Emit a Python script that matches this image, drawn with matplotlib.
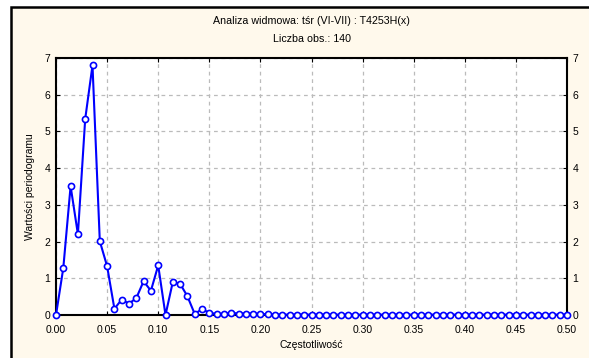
import numpy as np
import matplotlib
matplotlib.use("Agg")
import matplotlib.pyplot as plt
from matplotlib.patches import Rectangle

plt.rcParams['font.family'] = ['Liberation Sans', 'DejaVu Sans']

n_obs = 140
periodogram = [
    0.00, 1.28, 3.51, 2.20, 5.34, 6.80, 2.01, 1.33, 0.17, 0.42,
    0.31, 0.46, 0.92, 0.66, 1.35, 0.00, 0.90, 0.85, 0.51, 0.03,
    0.16, 0.06, 0.03, 0.03, 0.06, 0.04, 0.04, 0.04, 0.03, 0.02,
    0.01, 0.01, 0.01, 0.01, 0.01, 0.01, 0.01, 0.01, 0.01, 0.01,
    0.01, 0.01, 0.01, 0.01, 0.01, 0.01, 0.01, 0.01, 0.01, 0.01,
    0.01, 0.01, 0.01, 0.01, 0.01, 0.01, 0.01, 0.01, 0.01, 0.01,
    0.01, 0.01, 0.01, 0.01, 0.01, 0.01, 0.01, 0.01, 0.01, 0.01,
    0.01,
]
frequency = np.arange(len(periodogram)) / n_obs

x_ticks = [0.00, 0.05, 0.10, 0.15, 0.20, 0.25, 0.30, 0.35, 0.40, 0.45, 0.50]
y_ticks = [0, 1, 2, 3, 4, 5, 6, 7]

title_line1 = "Analiza widmowa: tśr (VI-VII) : T4253H(x)"
title_line2 = "Liczba obs.: 140"
x_label = "Częstotliwość"
y_label = "Wartości periodogramu"

W, H = 589, 358
fig = plt.figure(figsize=(W / 100, H / 100), dpi=100)
fig.patch.set_facecolor("white")

# cream panel with a black frame on the left and top
panel = Rectangle((11 / W, -0.05), 1.2, (H - 7) / H + 0.05,
                  transform=fig.transFigure, facecolor="#FFF9EC",
                  edgecolor="black", linewidth=1.8, zorder=0)
fig.add_artist(panel)

ax = fig.add_axes([56 / W, (H - 315) / H, (567 - 56) / W, (315 - 58) / H])
ax.set_facecolor("white")
ax.plot(frequency, periodogram, color="#0000FF", linewidth=1.5,
        marker="o", markersize=4.4, markerfacecolor="white",
        markeredgecolor="#0000FF", markeredgewidth=1.2, clip_on=False, zorder=3)

ax.set_xlim(0, 0.5)
ax.set_ylim(0, 7)
ax.set_xticks(x_ticks)
ax.set_xticklabels([f"{v:.2f}" for v in x_ticks])
ax.set_yticks(y_ticks)
ax.grid(True, color="#BBBBBB", linestyle=(0, (3, 3)), linewidth=0.9)
ax.tick_params(axis="both", direction="in", length=3, width=0.8,
               labelsize=7.5, top=True, right=True, labelright=True)
ax.tick_params(axis="x", pad=7)
ax.tick_params(axis="y", pad=4)
for side in ax.spines.values():
    side.set_linewidth(1.5)
    side.set_color("black")

ax.set_xlabel(x_label, fontsize=7.5, labelpad=4)
ax.set_ylabel(y_label, fontsize=7.5, labelpad=7)

cx = (56 + 567) / 2 / W
fig.text(cx, 1 - 21 / H, title_line1, ha="center", va="center", fontsize=7.7)
fig.text(cx, 1 - 39 / H, title_line2, ha="center", va="center", fontsize=7.7)

fig.savefig("out.png", dpi=100, facecolor=fig.get_facecolor())
